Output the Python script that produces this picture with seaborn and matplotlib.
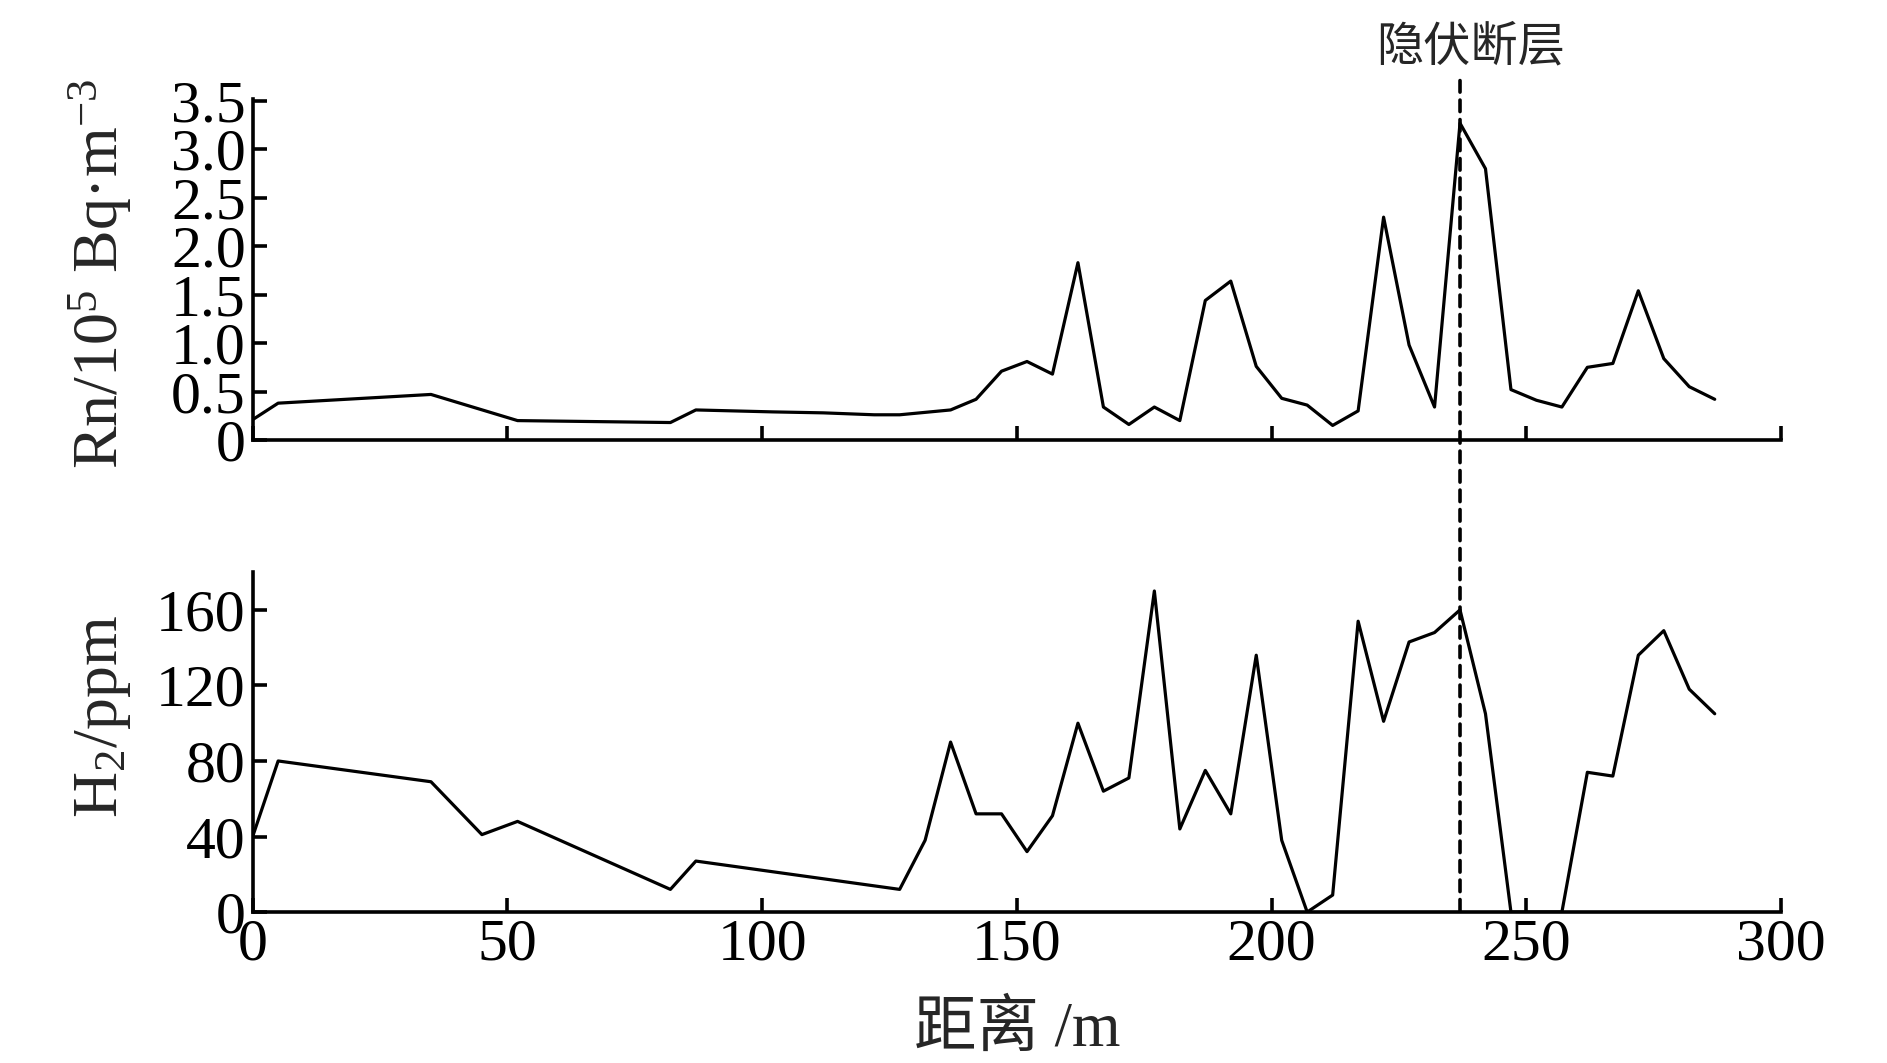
import matplotlib
matplotlib.use('Agg')
import matplotlib.pyplot as plt
import seaborn as sns
from matplotlib.patches import ConnectionPatch


# Rn profile (10^5 Bq/m3)
rn_x = [0, 5, 35, 52, 67, 82, 87, 102, 112, 122, 127, 137, 142,
        147, 152, 157, 162, 167, 172, 177, 182, 187, 192, 197, 202,
        207, 212, 217, 222, 227, 232, 237, 242, 247, 252, 257, 262,
        267, 272, 277, 282, 287]
rn_y = [0.21, 0.38, 0.47, 0.20, 0.19, 0.18, 0.31, 0.29, 0.28, 0.26, 0.26, 0.31, 0.42,
        0.71, 0.81, 0.68, 1.83, 0.34, 0.16, 0.34, 0.20, 1.44, 1.64, 0.76, 0.43,
        0.36, 0.15, 0.30, 2.30, 0.98, 0.34, 3.27, 2.80, 0.52, 0.41, 0.34, 0.75,
        0.79, 1.54, 0.84, 0.55, 0.42]

# H2 profile (ppm)
h2_x = [0, 5, 35, 45, 52, 82, 87, 127, 132, 137, 142,
        147, 152, 157, 162, 167, 172, 177, 182, 187, 192, 197, 202,
        207, 212, 217, 222, 227, 232, 237, 242, 247, 252, 257, 262,
        267, 272, 277, 282, 287]
h2_y = [40, 80, 69, 41, 48, 12, 27, 12, 38, 90, 52,
        52, 32, 51, 100, 64, 71, 170, 44, 75, 52, 136, 38,
        0, 9, 154, 101, 143, 148, 160, 105, 0, 0, 0, 74,
        72, 136, 149, 118, 105]

fault_x = 237
fault_label = '隐伏断层'
x_ticks = [0, 50, 100, 150, 200, 250, 300]
rn_ticks = [0, 0.5, 1.0, 1.5, 2.0, 2.5, 3.0, 3.5]
rn_tick_labels = ['0', '0.5', '1.0', '1.5', '2.0', '2.5', '3.0', '3.5']
h2_ticks = [0, 40, 80, 120, 160]


def style_axis(ax):
    sns.despine(ax=ax)
    for side in ['left', 'bottom']:
        ax.spines[side].set_linewidth(2.6)
        ax.spines[side].set_color('black')
    ax.tick_params(direction='in', length=10, width=2.6, labelsize=43,
                   colors='black', pad=5)
    ax.set_xlim(0, 300)
    ax.set_xticks(x_ticks)
    ax.grid(False)


def plot_graphs():
    fig = plt.figure(figsize=(18.87, 10.63), dpi=100)
    ax_rn = fig.add_axes([0.1339, 0.5861, 0.8099, 0.3208])
    ax_h2 = fig.add_axes([0.1339, 0.1420, 0.8099, 0.3198])

    sns.lineplot(x=rn_x, y=rn_y, ax=ax_rn, color='black', linewidth=2.3)
    sns.lineplot(x=h2_x, y=h2_y, ax=ax_h2, color='black', linewidth=2.3)

    style_axis(ax_rn)
    style_axis(ax_h2)

    ax_rn.set_ylim(0, 3.52)
    ax_rn.set_yticks(rn_ticks)
    ax_rn.set_yticklabels(rn_tick_labels)
    ax_rn.tick_params(axis='x', labelbottom=False)
    ax_h2.set_ylim(0, 180)
    ax_h2.set_yticks(h2_ticks)

    ax_rn.set_ylabel('Rn/10$^5$ Bq·m$^{-3}$', fontsize=46, va='center')
    ax_rn.yaxis.set_label_coords(-0.1, 0.487)
    ax_h2.set_ylabel('H$_2$/ppm', fontsize=46, va='center')
    ax_h2.yaxis.set_label_coords(-0.098, 0.576)
    ax_h2.set_xlabel('距离 /m', fontsize=45, va='center')
    ax_h2.xaxis.set_label_coords(0.5, -0.35)

    # dashed fault line running through both panels
    con = ConnectionPatch(xyA=(fault_x, 3.71), coordsA=ax_rn.transData,
                          xyB=(fault_x, 0), coordsB=ax_h2.transData,
                          color='black', linewidth=2.6,
                          linestyle=(0, (3.2, 2.2)))
    fig.add_artist(con)
    ax_rn.text(239, 4.05, fault_label, fontsize=34, ha='center', va='center',
               clip_on=False)

    fig.savefig('out.png', dpi=100)
    plt.close(fig)


def main():
    sns.set_theme(style='ticks')
    plt.rcParams['font.family'] = ['Liberation Serif', 'Noto Sans CJK SC']
    plt.rcParams['mathtext.fontset'] = 'custom'
    plt.rcParams['mathtext.rm'] = 'Liberation Serif'
    plt.rcParams['mathtext.default'] = 'regular'
    plot_graphs()


if __name__ == "__main__":
    main()
